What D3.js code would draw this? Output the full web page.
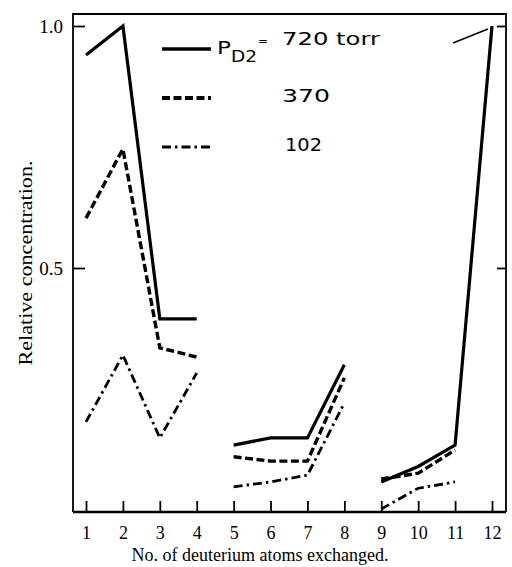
<!DOCTYPE html>
<html><head><meta charset="utf-8">
<script src="https://cdn.jsdelivr.net/npm/d3@7"></script>
<style>body{margin:0;background:#fff}svg{display:block}</style>
</head><body>
<svg id="c" width="512" height="567"></svg>
<script>
const xTicks = [1,2,3,4,5,6,7,8,9,10,11,12];
const yTicks = [0.5, 1.0];
const segments = [[1,2,3,4],[5,6,7,8],[9,10,11,12]];
const s720 = [0.94, 1.00, 0.395, 0.395, 0.134, 0.149, 0.149, 0.300, 0.058, 0.090, 0.134, 1.00];
const s370 = [0.603, 0.746, 0.335, 0.316, 0.110, 0.101, 0.101, 0.273, 0.064, 0.076, 0.124, null];
const s102 = [0.182, 0.320, 0.149, 0.283, 0.048, 0.058, 0.072, 0.221, 0.002, 0.045, 0.058, null];
const legendLabels = ["720 torr", "370", "102"];

const svg = d3.select("#c");
const L = 73, R = 506, T = 14, B = 512;
const x = d3.scaleLinear().domain([1, 12]).range([86, 492]);
const y = d3.scaleLinear().domain([0, 1]).range([510, 26]);

const series = [
  {v: s720, w: 3.2, dash: null},
  {v: s370, w: 3.4, dash: "8,3.5"},
  {v: s102, w: 2.8, dash: "9,4,2.5,4"}
];

const line = d3.line().x(d => x(d[0])).y(d => y(d[1]));
series.forEach(s => {
  segments.forEach(seg => {
    const pts = seg.map(k => [k, s.v[k-1]]).filter(p => p[1] != null);
    svg.append("path").attr("d", line(pts)).attr("fill", "none")
      .attr("stroke", "#000").attr("stroke-width", s.w)
      .attr("stroke-dasharray", s.dash).attr("stroke-linejoin", "miter");
  });
});

// frame
svg.append("path").attr("d", `M${L},${B} L${L},${T} L${R},${T} L${R},${B}`)
  .attr("fill", "none").attr("stroke", "#000").attr("stroke-width", 1.8);
svg.append("line").attr("x1", L).attr("x2", R).attr("y1", B).attr("y2", B)
  .attr("stroke", "#000").attr("stroke-width", 2.6);

const serif = "Liberation Serif";
// x axis
const xAxis = d3.axisBottom(x).tickValues(xTicks).tickSize(-11).tickPadding(14).tickFormat(d3.format("d"));
const gx = svg.append("g").attr("transform", `translate(0,${B})`).call(xAxis);
gx.select(".domain").remove();
gx.selectAll(".tick line").attr("stroke-width", 1.8);
gx.selectAll("text").attr("font-family", serif).attr("font-size", 18).attr("fill", "#000");

// y axis left
const yAxis = d3.axisLeft(y).tickValues(yTicks).tickSize(-12).tickPadding(10).tickFormat(d3.format(".1f"));
const gy = svg.append("g").attr("transform", `translate(${L},0)`).call(yAxis);
gy.select(".domain").remove();
gy.selectAll(".tick line").attr("stroke-width", 1.8);
gy.selectAll("text").attr("font-family", serif).attr("font-size", 19).attr("fill", "#000");

// y axis right ticks
const yAxisR = d3.axisRight(y).tickValues(yTicks).tickSize(-9).tickFormat("");
const gyr = svg.append("g").attr("transform", `translate(${R},0)`).call(yAxisR);
gyr.select(".domain").remove();
gyr.selectAll(".tick line").attr("stroke-width", 1.8);

// axis titles
svg.append("text").attr("x", 260).attr("y", 561).attr("text-anchor", "middle")
  .attr("font-family", serif).attr("font-size", 18).text("No. of deuterium atoms exchanged.");
svg.append("text").attr("transform", "translate(32,263) rotate(-90)").attr("text-anchor", "middle")
  .attr("font-family", serif).attr("font-size", 19)
  .attr("textLength", 205).attr("lengthAdjust", "spacingAndGlyphs").text("Relative concentration.");

// legend
const legY = [49, 98, 147];
series.forEach((s, i) => {
  svg.append("line").attr("x1", 162).attr("x2", 211).attr("y1", legY[i]).attr("y2", legY[i])
    .attr("stroke", "#000").attr("stroke-width", s.w + 0.4).attr("stroke-dasharray", s.dash);
});
const lf = "DejaVu Sans";
svg.append("text").attr("x", 217).attr("y", 54).attr("font-family", lf).attr("font-size", 17)
  .attr("textLength", 14).attr("lengthAdjust", "spacingAndGlyphs").text("P");
svg.append("text").attr("x", 231).attr("y", 62).attr("font-family", lf).attr("font-size", 15)
  .attr("textLength", 26).attr("lengthAdjust", "spacingAndGlyphs").text("D2");
svg.append("text").attr("x", 258).attr("y", 45).attr("font-family", lf).attr("font-size", 12).text("=");
svg.append("text").attr("x", 282).attr("y", 45).attr("font-family", lf).attr("font-size", 18)
  .attr("textLength", 98).attr("lengthAdjust", "spacingAndGlyphs").text(legendLabels[0]);
svg.append("text").attr("x", 282).attr("y", 102).attr("font-family", lf).attr("font-size", 18)
  .attr("textLength", 48).attr("lengthAdjust", "spacingAndGlyphs").text(legendLabels[1]);
svg.append("text").attr("x", 285).attr("y", 151).attr("font-family", lf).attr("font-size", 18)
  .attr("textLength", 37).attr("lengthAdjust", "spacingAndGlyphs").text(legendLabels[2]);

// arrow annotation pointing to peak at 12
svg.append("line").attr("x1", 453).attr("y1", 43).attr("x2", x(12) - 4).attr("y2", y(1) + 3)
  .attr("stroke", "#000").attr("stroke-width", 1.8);
</script>
</body></html>
